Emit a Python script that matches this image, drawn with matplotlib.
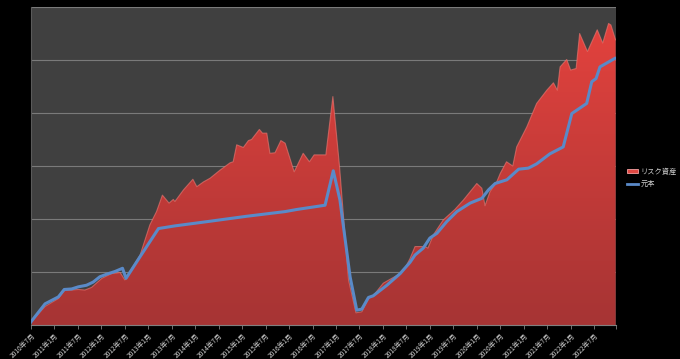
import matplotlib
matplotlib.use("Agg")
import matplotlib.pyplot as plt
import numpy as np
from matplotlib.patches import Patch
from matplotlib.lines import Line2D
from matplotlib.colors import LinearSegmentedColormap

plt.rcParams['font.family'] = ['Noto Sans CJK JP', 'DejaVu Sans']

# months since 2010-07
risk_months = [0, 3.6, 7, 8.5, 12.1, 13.8, 15.5, 18.1, 20.6, 22.8, 24, 27.9, 30.4, 32.1,
               33.6, 35.3, 36.4, 36.8, 39, 41.4, 42.4, 44.1, 45.8, 48.3, 50.9, 51.7, 52.6,
               54.3, 55.6, 56.4, 58.4, 59.2, 60.3, 61.1, 62.4, 63.9, 65, 67.3, 69.6, 71.2,
               72.4, 75.4, 77.2, 78.9, 81.2, 83.1, 84.6, 86.3, 87.5, 90.1, 94.4, 95.7, 96.9,
               98.2, 100.8, 101.5, 102.9, 105.4, 108.4, 110.6, 114, 115.3, 116.1, 117.4,
               119.1, 120, 121.6, 123.2, 124.2, 126.8, 129.3, 131.9, 133.6, 134.6, 135.3,
               137, 138, 139.4, 140.3, 142.3, 144.8, 146.2, 147.7, 148.3, 149.5]
risk_values = [6, 35, 50, 65, 67, 66, 71, 88, 97, 99, 85, 132, 189, 214,
               245, 230, 237, 233, 255, 275, 261, 270, 277, 292, 306, 308, 340,
               335, 348, 350, 369, 362, 362, 324, 325, 348, 343, 289, 324, 308,
               321, 321, 431, 299, 85, 23, 25, 50, 55, 79, 97, 108, 125,
               148, 148, 145, 170, 198, 218, 236, 267, 258, 225, 252,
               270, 286, 308, 300, 336, 374, 418, 443, 457, 443, 487,
               501, 481, 484, 550, 516, 557, 532, 569, 566, 538]

principal_months = [0, 3.6, 7, 8.5, 10.4, 12.1, 14.2, 15.9, 17.6, 19.4, 21.5, 23.4, 24.3,
                    27.9, 32.6, 36.8, 45, 55, 65, 68, 75.2, 77.3, 79, 81.6, 83.3, 84.6,
                    86.3, 87.5, 91, 94.4, 95.7, 96.9, 98.2, 100.3, 102, 103.8, 106.3,
                    108.9, 112.3, 115.3, 117, 118.7, 121.7, 124.7, 127.2, 129.3, 132.7,
                    136.1, 138.3, 142.1, 143.4, 144.5, 145.5, 149.3]
principal_values = [6, 40, 53, 67, 68, 72, 75, 81, 91, 96, 101, 107, 88,
                    129, 182, 187, 195, 205, 214, 218, 226, 291, 236, 91, 28, 30,
                    52, 55, 75, 97, 108, 118, 132, 145, 164, 173, 195,
                    214, 230, 239, 255, 267, 274, 294, 296, 304, 323,
                    336, 399, 418, 459, 465, 487, 503]

tick_months = list(range(0, 145, 6))
tick_labels = []
for i, m in enumerate(tick_months):
    y = 2010 + (6 + m) // 12
    mo = 7 if (m // 6) % 2 == 0 else 1
    tick_labels.append(f"{y}年{mo}月")

fig = plt.figure(figsize=(6.8, 3.59), dpi=100, facecolor='black')
ax = fig.add_axes([31/680, 1-325/359, (616-31)/680, (325-7)/359])
ax.set_facecolor('#404040')
ax.set_xlim(0, 149.6)
ax.set_ylim(0, 600)

# gradient red area
fill = ax.fill_between(risk_months, risk_values, 0, facecolor='none', edgecolor='none', zorder=2)
cmap = LinearSegmentedColormap.from_list('r', ['#a63434', '#e6433e'])
grad = np.linspace(0, 1, 256).reshape(-1, 1)
im = ax.imshow(grad, extent=[0, 149.6, 0, 600], origin='lower', aspect='auto', cmap=cmap, zorder=2)
path = fill.get_paths()[0]
im.set_clip_path(path, transform=ax.transData)
ax.plot(risk_months, risk_values, color='#f07a74', lw=0.8, alpha=0.6, zorder=3)

ax.plot(principal_months, principal_values, color='#5a8ac8', lw=2.2, zorder=4, solid_joinstyle='round')

ax.set_yticks([100, 200, 300, 400, 500])
ax.yaxis.grid(True, color='#7a7a7a', lw=0.8)
ax.set_axisbelow(True)
ax.tick_params(axis='y', left=False, labelleft=False)
ax.set_xticks(tick_months + [149.6])
ax.set_xticklabels(tick_labels + [''], rotation=45, ha='right', va='top',
                   rotation_mode='anchor', fontsize=4.8, color='#d0d0d0')
ax.tick_params(axis='x', color='#808080', length=3, width=0.6, pad=2)
for s in ['top', 'right']:
    ax.spines[s].set_visible(False)
ax.spines['left'].set_color('#5a5a5a')
ax.spines['bottom'].set_color('#808080')
ax.axhline(600, color='#7a7a7a', lw=0.8)

handles = [Patch(facecolor='#e04842', edgecolor='#f4a0a0', lw=0.6),
           Line2D([0], [0], color='#5a8ac8', lw=2)]
fig.legend(handles, ['リスク資産', '元本'], loc='center left', bbox_to_anchor=(620/680, 1-178/359),
           frameon=False, fontsize=5.2, labelcolor='#d0d0d0', handlelength=1.6,
           handleheight=0.5, handletextpad=0.3, labelspacing=0.6)

fig.savefig('out.png', dpi=100, facecolor='black')
